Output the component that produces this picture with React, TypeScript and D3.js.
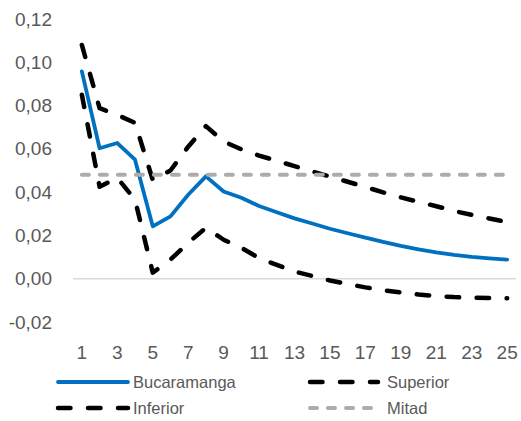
import React from "react";
import * as d3 from "d3";

const periods = [1, 2, 3, 4, 5, 6, 7, 8, 9, 10, 11, 12, 13, 14, 15, 16, 17, 18, 19, 20, 21, 22, 23, 24, 25];
const xTickLabels = [1, 3, 5, 7, 9, 11, 13, 15, 17, 19, 21, 23, 25];
const yTicks = [-0.02, 0, 0.02, 0.04, 0.06, 0.08, 0.1, 0.12];

const bucaramanga = [0.0958, 0.0603, 0.0627, 0.055, 0.0242, 0.0288, 0.0388, 0.0473, 0.0403, 0.0374, 0.0336, 0.0307, 0.0279, 0.0255, 0.0231, 0.021, 0.019, 0.017, 0.0152, 0.0136, 0.0122, 0.011, 0.0101, 0.0094, 0.0088];
const superior = [0.108, 0.0788, 0.0757, 0.072, 0.0457, 0.05, 0.061, 0.0705, 0.0634, 0.0598, 0.0569, 0.0545, 0.052, 0.0496, 0.0472, 0.0448, 0.0424, 0.0399, 0.0376, 0.0355, 0.0335, 0.0313, 0.0295, 0.0278, 0.0262];
const inferior = [0.085, 0.0425, 0.0466, 0.0365, 0.0028, 0.0088, 0.0166, 0.0235, 0.018, 0.0143, 0.0095, 0.0064, 0.0033, 0.0013, -0.0008, -0.0025, -0.004, -0.0053, -0.0063, -0.0073, -0.008, -0.0085, -0.0088, -0.0089, -0.009];
const mitad = [0.048, 0.048, 0.048, 0.048, 0.048, 0.048, 0.048, 0.048, 0.048, 0.048, 0.048, 0.048, 0.048, 0.048, 0.048, 0.048, 0.048, 0.048, 0.048, 0.048, 0.048, 0.048, 0.048, 0.048, 0.048];

const FONT = "'Liberation Sans', Arial, sans-serif";
const TEXT = "#595959";

const series = [
  { name: "Bucaramanga", values: bucaramanga, color: "#0070C0", width: 3.8, dash: "none", cap: "round" },
  { name: "Superior", values: superior, color: "#000000", width: 4.5, dash: "12.5 17.5", cap: "round" },
  { name: "Inferior", values: inferior, color: "#000000", width: 4.5, dash: "12.5 17.5", cap: "round" },
  { name: "Mitad", values: mitad, color: "#ADABAB", width: 4, dash: "7 11", cap: "round" },
];

export default function App() {
  const W = 521, H = 421;
  const x = d3.scaleBand<number>().domain(periods).range([73, 516]);
  const cx = (p: number) => (x(p) as number) + x.bandwidth() / 2;
  const y = d3.scaleLinear().domain([-0.02, 0.12]).range([322, 19]);
  const line = (vals: number[]) =>
    d3.line<number>().x((_, i) => cx(periods[i])).y((v) => y(v))(vals) as string;
  const fmt = (v: number) => d3.format(".2f")(v).replace(".", ",").replace("−", "-");

  const legend = [
    { s: series[0], x1: 58, x2: 128, tx: 133, ly: 382 },
    { s: series[1], x1: 310, x2: 378, tx: 387, ly: 382 },
    { s: series[2], x1: 58, x2: 128, tx: 133, ly: 408 },
    { s: series[3], x1: 310, x2: 376, tx: 387, ly: 408 },
  ];

  return (
    <svg width={W} height={H} style={{ position: "absolute", left: 0, top: 0, background: "#fff" }}>
      <rect width={W} height={H} fill="#fff" />
      {yTicks.map((t) => (
        <text key={t} x={52} y={y(t)} textAnchor="end" dominantBaseline="central" fontFamily={FONT} fontSize={19} fill={TEXT}>
          {fmt(t)}
        </text>
      ))}
      <line x1={73} x2={516} y1={y(0)} y2={y(0)} stroke="#D9D9D9" strokeWidth={1.5} />
      {xTickLabels.map((p) => (
        <text key={p} x={cx(p)} y={352} textAnchor="middle" dominantBaseline="central" fontFamily={FONT} fontSize={19} fill={TEXT}>
          {p}
        </text>
      ))}
      {series.map((s) => (
        <path key={s.name} d={line(s.values)} fill="none" stroke={s.color} strokeWidth={s.width}
          strokeDasharray={s.dash} strokeLinecap={s.cap as any} strokeLinejoin="round" />
      ))}
      {legend.map((l) => (
        <g key={l.s.name}>
          <line x1={l.x1} x2={l.x2} y1={l.ly} y2={l.ly} stroke={l.s.color} strokeWidth={l.s.width}
            strokeDasharray={l.s.dash} strokeLinecap={l.s.cap as any} />
          <text x={l.tx} y={l.ly} dominantBaseline="central" fontFamily={FONT} fontSize={16.5} fill={TEXT}>
            {l.s.name}
          </text>
        </g>
      ))}
    </svg>
  );
}
